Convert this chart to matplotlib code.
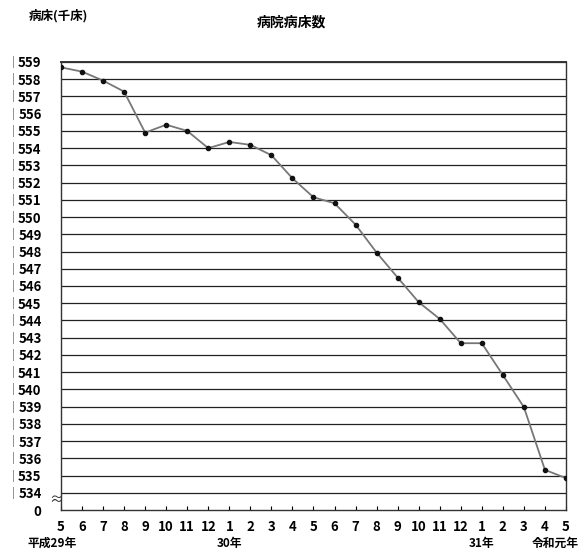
import numpy as np
import matplotlib.pyplot as plt

plt.rcParams['font.family'] = ['Noto Sans CJK JP', 'DejaVu Sans']

# 病院病床数 (千床), 平成29年5月 - 令和元年5月
months = [5, 6, 7, 8, 9, 10, 11, 12, 1, 2, 3, 4, 5, 6, 7, 8, 9, 10, 11, 12, 1, 2, 3, 4, 5]
beds = [558.69, 558.44, 557.92, 557.28, 554.90, 555.36, 555.00, 554.00, 554.36, 554.19,
        553.59, 552.25, 551.15, 550.80, 549.56, 547.94, 546.49, 545.06, 544.09, 542.68,
        542.68, 540.83, 538.97, 535.33, 534.85]
year_labels = {0: "平成29年", 8: "30年", 20: "31年", 24: "令和元年"}
yticks = list(range(534, 560))

fig = plt.figure(figsize=(5.83, 5.51), dpi=100)
ax = fig.add_axes([0.1046, 0.0744, 0.8662, 0.8131])

x = np.arange(len(beds))
for v in yticks:
    ax.axhline(v, color="#222222", lw=0.9, zorder=1)
ax.plot(x, beds, color="#777777", lw=1.3, zorder=2)
ax.plot(x, beds, "o", color="#111111", ms=3, zorder=3)

ax.set_xlim(0, len(beds) - 1)
ax.set_ylim(533, 559)
ax.set_yticks([533] + yticks)
ax.set_yticklabels(["0"] + [str(v) for v in yticks], fontsize=9.5, fontweight="bold")
ax.tick_params(axis="y", length=0, pad=14)
ax.set_xticks(x)
ax.set_xticklabels([str(m) for m in months], fontsize=9.5, fontweight="bold")
ax.tick_params(axis="x", direction="in", length=3, pad=7)

for s in ax.spines.values():
    s.set_color("#333333")
    s.set_linewidth(1.0)
ax.spines["top"].set_linewidth(1.4)

# small bars left of the y labels
for v in yticks:
    ax.text(-0.094, v, "|", transform=ax.get_yaxis_transform(), ha="center", va="center",
            fontsize=7, color="#555555")

# axis break mark
ax.text(-0.01, 533.55, "≈", transform=ax.get_yaxis_transform(), ha="center", va="center",
        fontsize=10, color="#333333")

for i, lab in year_labels.items():
    xx = i
    if i == 0:
        xx = i - 0.4
    if i == 24:
        xx = i - 0.5
    ax.text(xx, -0.06, lab, transform=ax.get_xaxis_transform(), ha="center", va="top",
            fontsize=8.5, fontweight="bold")

fig.text(0.5, 0.96, "病院病床数", ha="center", va="center", fontsize=10, fontweight="bold")
fig.text(0.05, 0.972, "病床(千床)", ha="left", va="center", fontsize=9, fontweight="bold")

fig.savefig("out.png", dpi=100)
